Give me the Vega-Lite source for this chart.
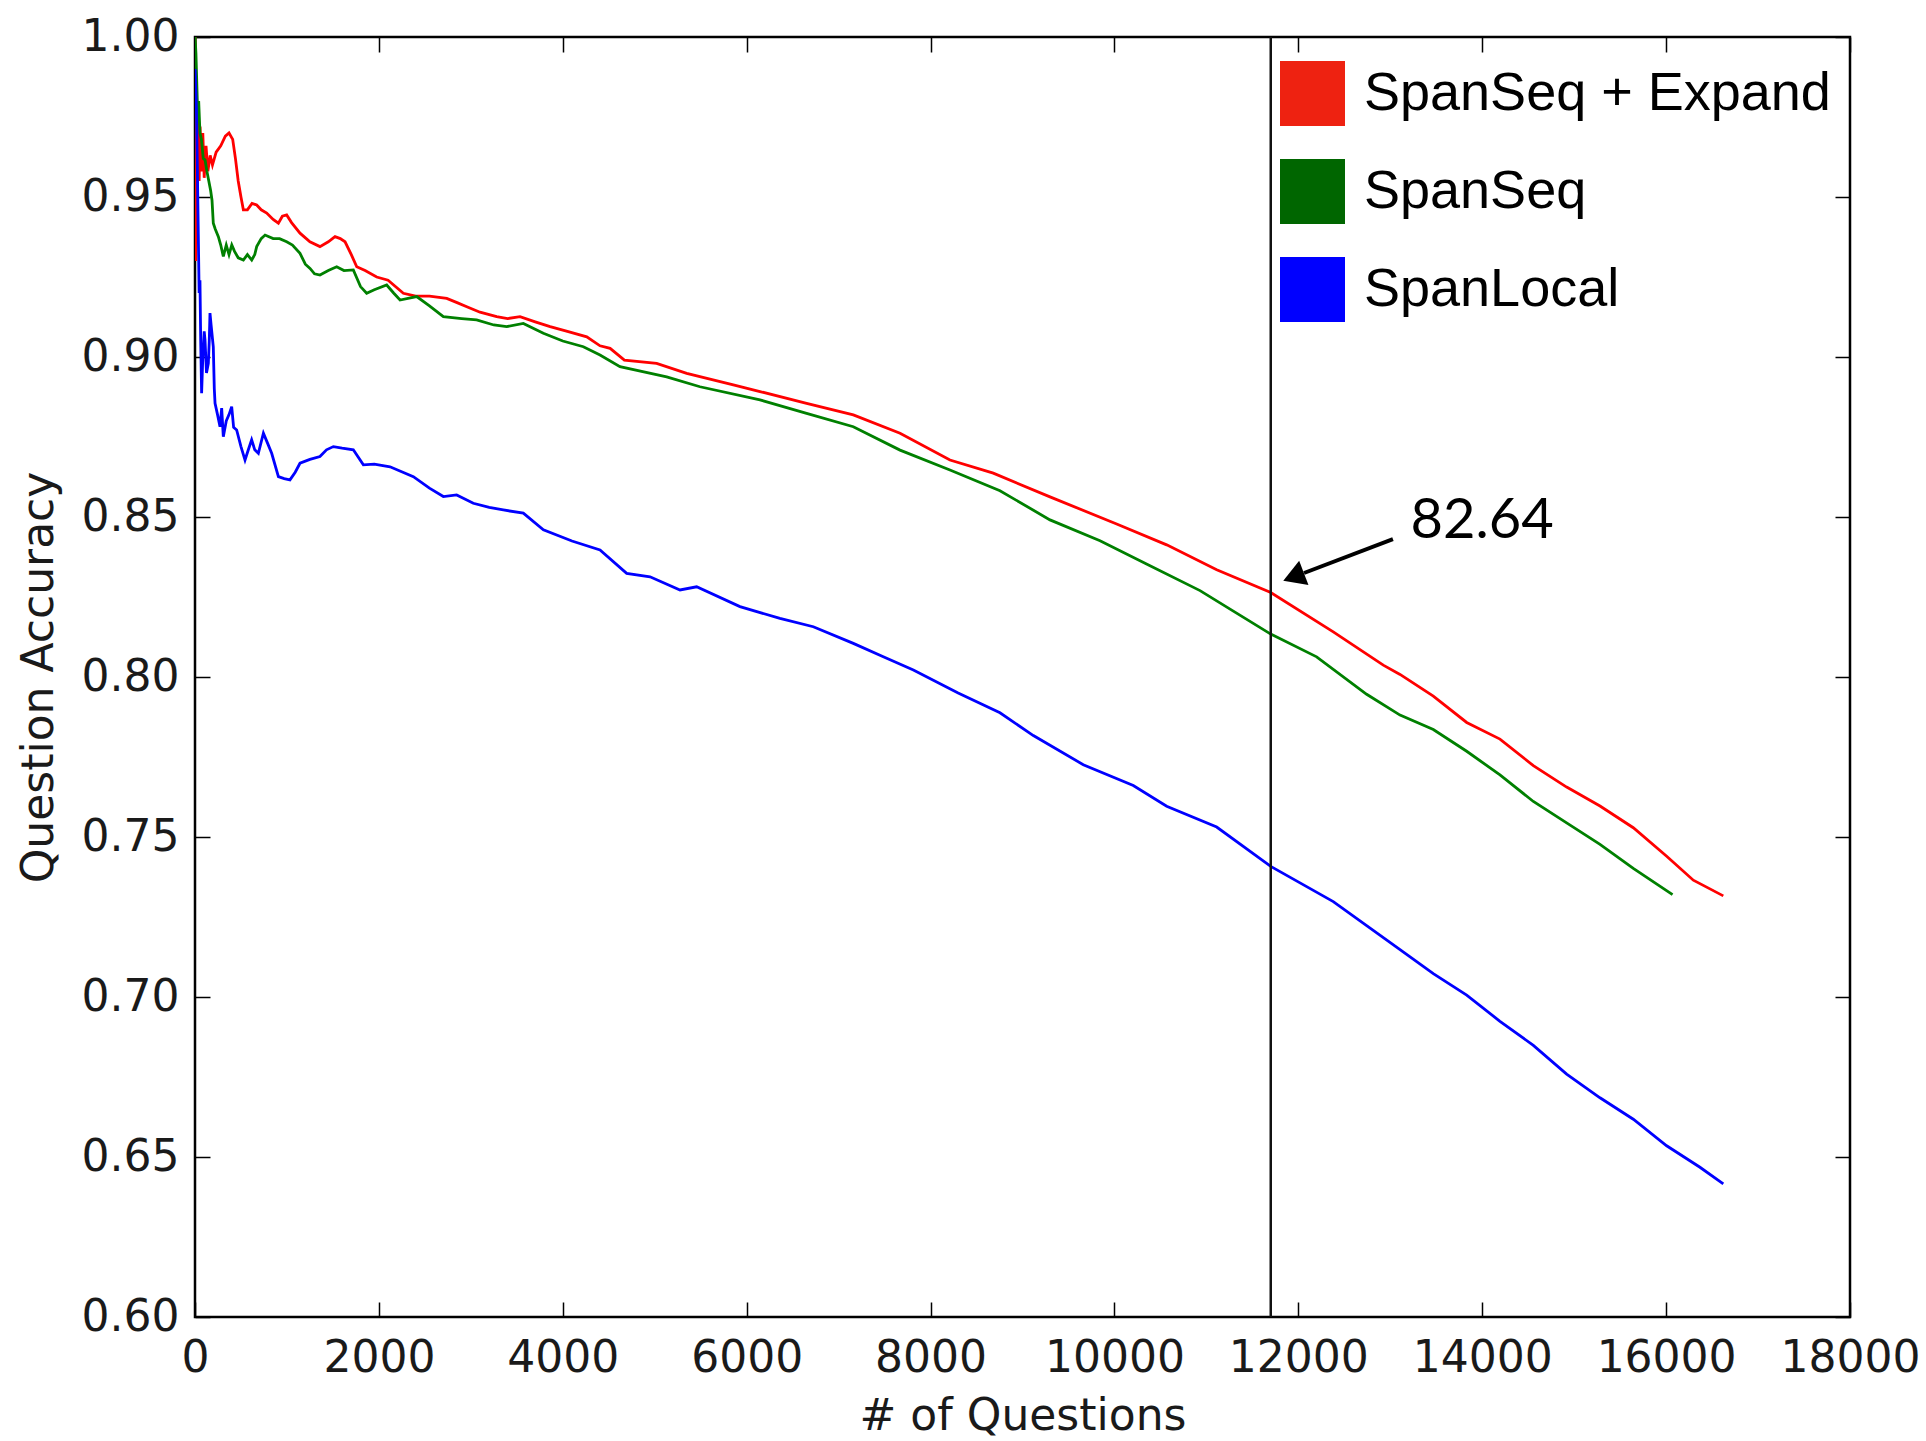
{
  "$schema": "https://vega.github.io/schema/vega-lite/v6.json",
  "width": 1655,
  "height": 1280,
  "autosize": {"type": "none"},
  "padding": {"left": 195, "top": 37, "right": 76, "bottom": 124},
  "background": "white",
  "config": {
    "view": {"stroke": "black", "strokeWidth": 2.5},
    "axis": {"domain": false, "grid": false, "tickColor": "black", "tickWidth": 1.5, "tickSize": -15,
      "labelFont": "DejaVu Sans", "labelFontSize": 44, "labelColor": "#1a1a1a",
      "titleFont": "DejaVu Sans", "titleFontSize": 44, "titleFontWeight": "normal", "titleColor": "#1a1a1a"}
  },
  "datasets": {
    "lines": [
      {"series": "SpanSeq + Expand", "q": 1, "acc": 1.0},
      {"series": "SpanSeq + Expand", "q": 8, "acc": 0.93},
      {"series": "SpanSeq + Expand", "q": 15, "acc": 0.97},
      {"series": "SpanSeq + Expand", "q": 25, "acc": 0.95},
      {"series": "SpanSeq + Expand", "q": 35, "acc": 0.975},
      {"series": "SpanSeq + Expand", "q": 45, "acc": 0.955},
      {"series": "SpanSeq + Expand", "q": 55, "acc": 0.972},
      {"series": "SpanSeq + Expand", "q": 70, "acc": 0.958},
      {"series": "SpanSeq + Expand", "q": 85, "acc": 0.97},
      {"series": "SpanSeq + Expand", "q": 100, "acc": 0.956},
      {"series": "SpanSeq + Expand", "q": 120, "acc": 0.966},
      {"series": "SpanSeq + Expand", "q": 140, "acc": 0.958},
      {"series": "SpanSeq + Expand", "q": 165, "acc": 0.963},
      {"series": "SpanSeq + Expand", "q": 190, "acc": 0.96},
      {"series": "SpanSeq + Expand", "q": 230, "acc": 0.964},
      {"series": "SpanSeq + Expand", "q": 280, "acc": 0.966},
      {"series": "SpanSeq + Expand", "q": 330, "acc": 0.969},
      {"series": "SpanSeq + Expand", "q": 370, "acc": 0.97},
      {"series": "SpanSeq + Expand", "q": 410, "acc": 0.968},
      {"series": "SpanSeq + Expand", "q": 440, "acc": 0.962},
      {"series": "SpanSeq + Expand", "q": 470, "acc": 0.955},
      {"series": "SpanSeq + Expand", "q": 500, "acc": 0.95},
      {"series": "SpanSeq + Expand", "q": 526, "acc": 0.946},
      {"series": "SpanSeq + Expand", "q": 570, "acc": 0.946},
      {"series": "SpanSeq + Expand", "q": 620, "acc": 0.948},
      {"series": "SpanSeq + Expand", "q": 671, "acc": 0.9475},
      {"series": "SpanSeq + Expand", "q": 720, "acc": 0.946},
      {"series": "SpanSeq + Expand", "q": 780, "acc": 0.945},
      {"series": "SpanSeq + Expand", "q": 850, "acc": 0.943},
      {"series": "SpanSeq + Expand", "q": 907, "acc": 0.9418},
      {"series": "SpanSeq + Expand", "q": 950, "acc": 0.944},
      {"series": "SpanSeq + Expand", "q": 997, "acc": 0.9444},
      {"series": "SpanSeq + Expand", "q": 1050, "acc": 0.942},
      {"series": "SpanSeq + Expand", "q": 1142, "acc": 0.9387},
      {"series": "SpanSeq + Expand", "q": 1250, "acc": 0.936},
      {"series": "SpanSeq + Expand", "q": 1359, "acc": 0.9345},
      {"series": "SpanSeq + Expand", "q": 1450, "acc": 0.936},
      {"series": "SpanSeq + Expand", "q": 1523, "acc": 0.9376},
      {"series": "SpanSeq + Expand", "q": 1580, "acc": 0.937},
      {"series": "SpanSeq + Expand", "q": 1632, "acc": 0.936},
      {"series": "SpanSeq + Expand", "q": 1700, "acc": 0.932},
      {"series": "SpanSeq + Expand", "q": 1759, "acc": 0.9282},
      {"series": "SpanSeq + Expand", "q": 1850, "acc": 0.927},
      {"series": "SpanSeq + Expand", "q": 1976, "acc": 0.925},
      {"series": "SpanSeq + Expand", "q": 2100, "acc": 0.924},
      {"series": "SpanSeq + Expand", "q": 2266, "acc": 0.9199},
      {"series": "SpanSeq + Expand", "q": 2400, "acc": 0.919},
      {"series": "SpanSeq + Expand", "q": 2550, "acc": 0.919},
      {"series": "SpanSeq + Expand", "q": 2738, "acc": 0.9183},
      {"series": "SpanSeq + Expand", "q": 2850, "acc": 0.917},
      {"series": "SpanSeq + Expand", "q": 2956, "acc": 0.9157},
      {"series": "SpanSeq + Expand", "q": 3100, "acc": 0.914},
      {"series": "SpanSeq + Expand", "q": 3281, "acc": 0.9126},
      {"series": "SpanSeq + Expand", "q": 3400, "acc": 0.912},
      {"series": "SpanSeq + Expand", "q": 3535, "acc": 0.9126},
      {"series": "SpanSeq + Expand", "q": 3700, "acc": 0.911},
      {"series": "SpanSeq + Expand", "q": 3862, "acc": 0.9095},
      {"series": "SpanSeq + Expand", "q": 4050, "acc": 0.908},
      {"series": "SpanSeq + Expand", "q": 4261, "acc": 0.9063},
      {"series": "SpanSeq + Expand", "q": 4405, "acc": 0.9035},
      {"series": "SpanSeq + Expand", "q": 4515, "acc": 0.9027},
      {"series": "SpanSeq + Expand", "q": 4670, "acc": 0.899},
      {"series": "SpanSeq + Expand", "q": 5021, "acc": 0.898},
      {"series": "SpanSeq + Expand", "q": 5348, "acc": 0.8949},
      {"series": "SpanSeq + Expand", "q": 5855, "acc": 0.8913},
      {"series": "SpanSeq + Expand", "q": 6145, "acc": 0.8892},
      {"series": "SpanSeq + Expand", "q": 6652, "acc": 0.8855},
      {"series": "SpanSeq + Expand", "q": 7160, "acc": 0.8819},
      {"series": "SpanSeq + Expand", "q": 7668, "acc": 0.8762},
      {"series": "SpanSeq + Expand", "q": 8211, "acc": 0.8678},
      {"series": "SpanSeq + Expand", "q": 8682, "acc": 0.8637},
      {"series": "SpanSeq + Expand", "q": 9299, "acc": 0.8563},
      {"series": "SpanSeq + Expand", "q": 10024, "acc": 0.8478},
      {"series": "SpanSeq + Expand", "q": 10568, "acc": 0.8413},
      {"series": "SpanSeq + Expand", "q": 11112, "acc": 0.8335},
      {"series": "SpanSeq + Expand", "q": 11700, "acc": 0.8264},
      {"series": "SpanSeq + Expand", "q": 12380, "acc": 0.8141},
      {"series": "SpanSeq + Expand", "q": 12924, "acc": 0.8037},
      {"series": "SpanSeq + Expand", "q": 13106, "acc": 0.8008},
      {"series": "SpanSeq + Expand", "q": 13468, "acc": 0.794},
      {"series": "SpanSeq + Expand", "q": 13831, "acc": 0.7858},
      {"series": "SpanSeq + Expand", "q": 14193, "acc": 0.7806},
      {"series": "SpanSeq + Expand", "q": 14556, "acc": 0.7723},
      {"series": "SpanSeq + Expand", "q": 14918, "acc": 0.7656},
      {"series": "SpanSeq + Expand", "q": 15281, "acc": 0.7597},
      {"series": "SpanSeq + Expand", "q": 15643, "acc": 0.7529},
      {"series": "SpanSeq + Expand", "q": 16006, "acc": 0.744},
      {"series": "SpanSeq + Expand", "q": 16296, "acc": 0.7365},
      {"series": "SpanSeq + Expand", "q": 16622, "acc": 0.7316},

      {"series": "SpanSeq", "q": 1, "acc": 1.0},
      {"series": "SpanSeq", "q": 10, "acc": 0.995},
      {"series": "SpanSeq", "q": 20, "acc": 0.985},
      {"series": "SpanSeq", "q": 30, "acc": 0.975},
      {"series": "SpanSeq", "q": 40, "acc": 0.98},
      {"series": "SpanSeq", "q": 54, "acc": 0.97},
      {"series": "SpanSeq", "q": 70, "acc": 0.968},
      {"series": "SpanSeq", "q": 90, "acc": 0.962},
      {"series": "SpanSeq", "q": 109, "acc": 0.9616},
      {"series": "SpanSeq", "q": 130, "acc": 0.958},
      {"series": "SpanSeq", "q": 150, "acc": 0.955},
      {"series": "SpanSeq", "q": 170, "acc": 0.952},
      {"series": "SpanSeq", "q": 185, "acc": 0.949},
      {"series": "SpanSeq", "q": 199, "acc": 0.9418},
      {"series": "SpanSeq", "q": 220, "acc": 0.94},
      {"series": "SpanSeq", "q": 254, "acc": 0.9376},
      {"series": "SpanSeq", "q": 280, "acc": 0.935},
      {"series": "SpanSeq", "q": 308, "acc": 0.9314},
      {"series": "SpanSeq", "q": 340, "acc": 0.935},
      {"series": "SpanSeq", "q": 370, "acc": 0.932},
      {"series": "SpanSeq", "q": 400, "acc": 0.935},
      {"series": "SpanSeq", "q": 430, "acc": 0.933},
      {"series": "SpanSeq", "q": 470, "acc": 0.931},
      {"series": "SpanSeq", "q": 526, "acc": 0.9303},
      {"series": "SpanSeq", "q": 570, "acc": 0.932},
      {"series": "SpanSeq", "q": 617, "acc": 0.9303},
      {"series": "SpanSeq", "q": 650, "acc": 0.932},
      {"series": "SpanSeq", "q": 671, "acc": 0.9345},
      {"series": "SpanSeq", "q": 720, "acc": 0.937},
      {"series": "SpanSeq", "q": 762, "acc": 0.9381},
      {"series": "SpanSeq", "q": 850, "acc": 0.937},
      {"series": "SpanSeq", "q": 920, "acc": 0.937},
      {"series": "SpanSeq", "q": 997, "acc": 0.936},
      {"series": "SpanSeq", "q": 1060, "acc": 0.935},
      {"series": "SpanSeq", "q": 1142, "acc": 0.9324},
      {"series": "SpanSeq", "q": 1200, "acc": 0.929},
      {"series": "SpanSeq", "q": 1251, "acc": 0.9277},
      {"series": "SpanSeq", "q": 1300, "acc": 0.926},
      {"series": "SpanSeq", "q": 1359, "acc": 0.9256},
      {"series": "SpanSeq", "q": 1450, "acc": 0.927},
      {"series": "SpanSeq", "q": 1541, "acc": 0.9282},
      {"series": "SpanSeq", "q": 1620, "acc": 0.927},
      {"series": "SpanSeq", "q": 1722, "acc": 0.9272},
      {"series": "SpanSeq", "q": 1800, "acc": 0.922},
      {"series": "SpanSeq", "q": 1867, "acc": 0.9199},
      {"series": "SpanSeq", "q": 1950, "acc": 0.921},
      {"series": "SpanSeq", "q": 2085, "acc": 0.9225},
      {"series": "SpanSeq", "q": 2160, "acc": 0.92},
      {"series": "SpanSeq", "q": 2230, "acc": 0.9178},
      {"series": "SpanSeq", "q": 2411, "acc": 0.9189},
      {"series": "SpanSeq", "q": 2550, "acc": 0.916},
      {"series": "SpanSeq", "q": 2701, "acc": 0.9126},
      {"series": "SpanSeq", "q": 2900, "acc": 0.912},
      {"series": "SpanSeq", "q": 3063, "acc": 0.9116},
      {"series": "SpanSeq", "q": 3250, "acc": 0.91},
      {"series": "SpanSeq", "q": 3390, "acc": 0.9095},
      {"series": "SpanSeq", "q": 3571, "acc": 0.9105},
      {"series": "SpanSeq", "q": 3789, "acc": 0.9074},
      {"series": "SpanSeq", "q": 4000, "acc": 0.905},
      {"series": "SpanSeq", "q": 4224, "acc": 0.9032},
      {"series": "SpanSeq", "q": 4405, "acc": 0.9006},
      {"series": "SpanSeq", "q": 4622, "acc": 0.897},
      {"series": "SpanSeq", "q": 5130, "acc": 0.8938},
      {"series": "SpanSeq", "q": 5492, "acc": 0.8907},
      {"series": "SpanSeq", "q": 6145, "acc": 0.8866},
      {"series": "SpanSeq", "q": 6652, "acc": 0.8824},
      {"series": "SpanSeq", "q": 7160, "acc": 0.8782},
      {"series": "SpanSeq", "q": 7668, "acc": 0.8709},
      {"series": "SpanSeq", "q": 8211, "acc": 0.8647},
      {"series": "SpanSeq", "q": 8755, "acc": 0.8582},
      {"series": "SpanSeq", "q": 9299, "acc": 0.8491},
      {"series": "SpanSeq", "q": 9843, "acc": 0.8426},
      {"series": "SpanSeq", "q": 10387, "acc": 0.8348},
      {"series": "SpanSeq", "q": 10931, "acc": 0.827},
      {"series": "SpanSeq", "q": 11293, "acc": 0.8206},
      {"series": "SpanSeq", "q": 11700, "acc": 0.8134},
      {"series": "SpanSeq", "q": 12199, "acc": 0.8063},
      {"series": "SpanSeq", "q": 12743, "acc": 0.7946},
      {"series": "SpanSeq", "q": 13106, "acc": 0.7881},
      {"series": "SpanSeq", "q": 13468, "acc": 0.7836},
      {"series": "SpanSeq", "q": 13831, "acc": 0.7768},
      {"series": "SpanSeq", "q": 14193, "acc": 0.7694},
      {"series": "SpanSeq", "q": 14556, "acc": 0.7611},
      {"series": "SpanSeq", "q": 14918, "acc": 0.7544},
      {"series": "SpanSeq", "q": 15281, "acc": 0.7477},
      {"series": "SpanSeq", "q": 15643, "acc": 0.7402},
      {"series": "SpanSeq", "q": 16070, "acc": 0.732},

      {"series": "SpanLocal", "q": 1, "acc": 0.99},
      {"series": "SpanLocal", "q": 15, "acc": 0.978},
      {"series": "SpanLocal", "q": 25, "acc": 0.96},
      {"series": "SpanLocal", "q": 35, "acc": 0.94},
      {"series": "SpanLocal", "q": 45, "acc": 0.92},
      {"series": "SpanLocal", "q": 54, "acc": 0.924},
      {"series": "SpanLocal", "q": 62, "acc": 0.905},
      {"series": "SpanLocal", "q": 72, "acc": 0.8887},
      {"series": "SpanLocal", "q": 85, "acc": 0.9},
      {"series": "SpanLocal", "q": 100, "acc": 0.908},
      {"series": "SpanLocal", "q": 109, "acc": 0.9053},
      {"series": "SpanLocal", "q": 125, "acc": 0.895},
      {"series": "SpanLocal", "q": 145, "acc": 0.898},
      {"series": "SpanLocal", "q": 155, "acc": 0.905},
      {"series": "SpanLocal", "q": 163, "acc": 0.9137},
      {"series": "SpanLocal", "q": 175, "acc": 0.91},
      {"series": "SpanLocal", "q": 199, "acc": 0.9032},
      {"series": "SpanLocal", "q": 210, "acc": 0.89},
      {"series": "SpanLocal", "q": 218, "acc": 0.8855},
      {"series": "SpanLocal", "q": 245, "acc": 0.882},
      {"series": "SpanLocal", "q": 272, "acc": 0.8782},
      {"series": "SpanLocal", "q": 290, "acc": 0.884},
      {"series": "SpanLocal", "q": 308, "acc": 0.8751},
      {"series": "SpanLocal", "q": 340, "acc": 0.88},
      {"series": "SpanLocal", "q": 370, "acc": 0.882},
      {"series": "SpanLocal", "q": 399, "acc": 0.8845},
      {"series": "SpanLocal", "q": 420, "acc": 0.878},
      {"series": "SpanLocal", "q": 453, "acc": 0.8772},
      {"series": "SpanLocal", "q": 500, "acc": 0.872},
      {"series": "SpanLocal", "q": 544, "acc": 0.8678},
      {"series": "SpanLocal", "q": 580, "acc": 0.871},
      {"series": "SpanLocal", "q": 616, "acc": 0.8741},
      {"series": "SpanLocal", "q": 650, "acc": 0.871},
      {"series": "SpanLocal", "q": 689, "acc": 0.8699},
      {"series": "SpanLocal", "q": 744, "acc": 0.8762},
      {"series": "SpanLocal", "q": 790, "acc": 0.873},
      {"series": "SpanLocal", "q": 834, "acc": 0.8699},
      {"series": "SpanLocal", "q": 907, "acc": 0.8626},
      {"series": "SpanLocal", "q": 970, "acc": 0.862},
      {"series": "SpanLocal", "q": 1033, "acc": 0.8616},
      {"series": "SpanLocal", "q": 1090, "acc": 0.864},
      {"series": "SpanLocal", "q": 1142, "acc": 0.8668},
      {"series": "SpanLocal", "q": 1250, "acc": 0.868},
      {"series": "SpanLocal", "q": 1359, "acc": 0.8689},
      {"series": "SpanLocal", "q": 1430, "acc": 0.871},
      {"series": "SpanLocal", "q": 1505, "acc": 0.872},
      {"series": "SpanLocal", "q": 1600, "acc": 0.8715},
      {"series": "SpanLocal", "q": 1722, "acc": 0.871},
      {"series": "SpanLocal", "q": 1831, "acc": 0.8663},
      {"series": "SpanLocal", "q": 1950, "acc": 0.8665},
      {"series": "SpanLocal", "q": 2121, "acc": 0.8657},
      {"series": "SpanLocal", "q": 2375, "acc": 0.8626},
      {"series": "SpanLocal", "q": 2550, "acc": 0.859},
      {"series": "SpanLocal", "q": 2701, "acc": 0.8564},
      {"series": "SpanLocal", "q": 2846, "acc": 0.8569},
      {"series": "SpanLocal", "q": 3027, "acc": 0.8543},
      {"series": "SpanLocal", "q": 3200, "acc": 0.853},
      {"series": "SpanLocal", "q": 3353, "acc": 0.8522},
      {"series": "SpanLocal", "q": 3571, "acc": 0.8512},
      {"series": "SpanLocal", "q": 3789, "acc": 0.846},
      {"series": "SpanLocal", "q": 4100, "acc": 0.8425},
      {"series": "SpanLocal", "q": 4405, "acc": 0.8397},
      {"series": "SpanLocal", "q": 4695, "acc": 0.8324},
      {"series": "SpanLocal", "q": 4949, "acc": 0.8313},
      {"series": "SpanLocal", "q": 5275, "acc": 0.8272},
      {"series": "SpanLocal", "q": 5456, "acc": 0.8282},
      {"series": "SpanLocal", "q": 5927, "acc": 0.822},
      {"series": "SpanLocal", "q": 6362, "acc": 0.8183},
      {"series": "SpanLocal", "q": 6725, "acc": 0.8157},
      {"series": "SpanLocal", "q": 7160, "acc": 0.8105},
      {"series": "SpanLocal", "q": 7486, "acc": 0.8063},
      {"series": "SpanLocal", "q": 7813, "acc": 0.8022},
      {"series": "SpanLocal", "q": 8300, "acc": 0.795},
      {"series": "SpanLocal", "q": 8755, "acc": 0.7888},
      {"series": "SpanLocal", "q": 9118, "acc": 0.7817},
      {"series": "SpanLocal", "q": 9661, "acc": 0.7726},
      {"series": "SpanLocal", "q": 10205, "acc": 0.7661},
      {"series": "SpanLocal", "q": 10568, "acc": 0.7596},
      {"series": "SpanLocal", "q": 11112, "acc": 0.7531},
      {"series": "SpanLocal", "q": 11700, "acc": 0.7408},
      {"series": "SpanLocal", "q": 12380, "acc": 0.7298},
      {"series": "SpanLocal", "q": 13106, "acc": 0.7148},
      {"series": "SpanLocal", "q": 13468, "acc": 0.7073},
      {"series": "SpanLocal", "q": 13831, "acc": 0.7006},
      {"series": "SpanLocal", "q": 14193, "acc": 0.6924},
      {"series": "SpanLocal", "q": 14556, "acc": 0.6849},
      {"series": "SpanLocal", "q": 14918, "acc": 0.6759},
      {"series": "SpanLocal", "q": 15281, "acc": 0.6685},
      {"series": "SpanLocal", "q": 15643, "acc": 0.6618},
      {"series": "SpanLocal", "q": 16006, "acc": 0.6535},
      {"series": "SpanLocal", "q": 16368, "acc": 0.6468},
      {"series": "SpanLocal", "q": 16622, "acc": 0.6416}
    ],
    "annot": [
      {"q": 13220, "acc": 0.8434, "label": "82.64", "q0": 13029, "acc0": 0.8431, "q1": 12062, "acc1": 0.8325, "qh": 11948, "acch": 0.8313}
    ],
    "vline": [{"q": 11700}]
  },
  "resolve": {"axis": {"x": "independent", "y": "independent"}},
  "layer": [
    {
      "data": {"name": "lines"},
      "mark": {"type": "line", "strokeWidth": 2.8, "clip": true},
      "encoding": {
        "x": {"field": "q", "type": "quantitative",
          "scale": {"domain": [0, 18000], "nice": false, "zero": false},
          "axis": {"orient": "bottom", "values": [0, 2000, 4000, 6000, 8000, 10000, 12000, 14000, 16000, 18000],
            "format": "d", "labelPadding": 34, "title": "# of Questions", "titleX": 827.5, "titleY": 112,
            "titleBaseline": "alphabetic", "titleAlign": "center", "labelFlush": false}},
        "y": {"field": "acc", "type": "quantitative",
          "scale": {"domain": [0.6, 1.0], "nice": false, "zero": false},
          "axis": {"orient": "left", "values": [0.6, 0.65, 0.7, 0.75, 0.8, 0.85, 0.9, 0.95, 1.0],
            "format": ".2f", "labelPadding": 31, "title": "Question Accuracy", "titleX": -156, "titleY": 640,
            "titleAngle": -90, "titleAlign": "center", "titleBaseline": "middle"}},
        "color": {"field": "series", "type": "nominal",
          "scale": {"domain": ["SpanSeq + Expand", "SpanSeq", "SpanLocal"], "range": ["#ff0000", "#008000", "#0000ff"]},
          "legend": {"title": null, "orient": "none", "legendX": 1085, "legendY": 24, "padding": 0,
            "symbolType": "square", "symbolSize": 4225, "symbolStrokeWidth": 0, "symbolOpacity": 1,
            "labelFont": "Liberation Sans", "labelFontSize": 54, "labelColor": "black", "labelOffset": 19,
            "rowPadding": 33, "labelLimit": 600,
            "encode": {"symbols": {"update": {
              "fill": {"signal": "datum.value === 'SpanSeq + Expand' ? '#ee2211' : datum.value === 'SpanSeq' ? '#006600' : '#0000ff'"},
              "stroke": {"value": "transparent"}}}}}}
      }
    },
    {
      "data": {"name": "vline"},
      "mark": {"type": "rule", "color": "#111111", "strokeWidth": 2.5},
      "encoding": {
        "x": {"field": "q", "type": "quantitative", "axis": null}
      }
    },
    {
      "data": {"name": "annot"},
      "mark": {"type": "rule", "color": "black", "strokeWidth": 4},
      "encoding": {
        "x": {"field": "q0", "type": "quantitative", "axis": null},
        "y": {"field": "acc0", "type": "quantitative", "axis": null},
        "x2": {"field": "q1"},
        "y2": {"field": "acc1"}
      }
    },
    {
      "data": {"name": "annot"},
      "mark": {"type": "point", "shape": "M0,-1L1.18,1L-1.18,1Z", "size": 484, "angle": 249, "filled": true, "color": "black", "opacity": 1, "strokeWidth": 0},
      "encoding": {
        "x": {"field": "qh", "type": "quantitative", "axis": null},
        "y": {"field": "acch", "type": "quantitative", "axis": null}
      }
    },
    {
      "data": {"name": "annot"},
      "mark": {"type": "text", "font": "Lato", "fontSize": 56, "align": "left", "baseline": "alphabetic", "color": "black"},
      "encoding": {
        "x": {"field": "q", "type": "quantitative",
          "axis": {"orient": "top", "values": [0, 2000, 4000, 6000, 8000, 10000, 12000, 14000, 16000, 18000], "labels": false, "title": null}},
        "y": {"field": "acc", "type": "quantitative",
          "axis": {"orient": "right", "values": [0.6, 0.65, 0.7, 0.75, 0.8, 0.85, 0.9, 0.95, 1.0], "labels": false, "title": null}},
        "text": {"field": "label"}
      }
    }
  ]
}
